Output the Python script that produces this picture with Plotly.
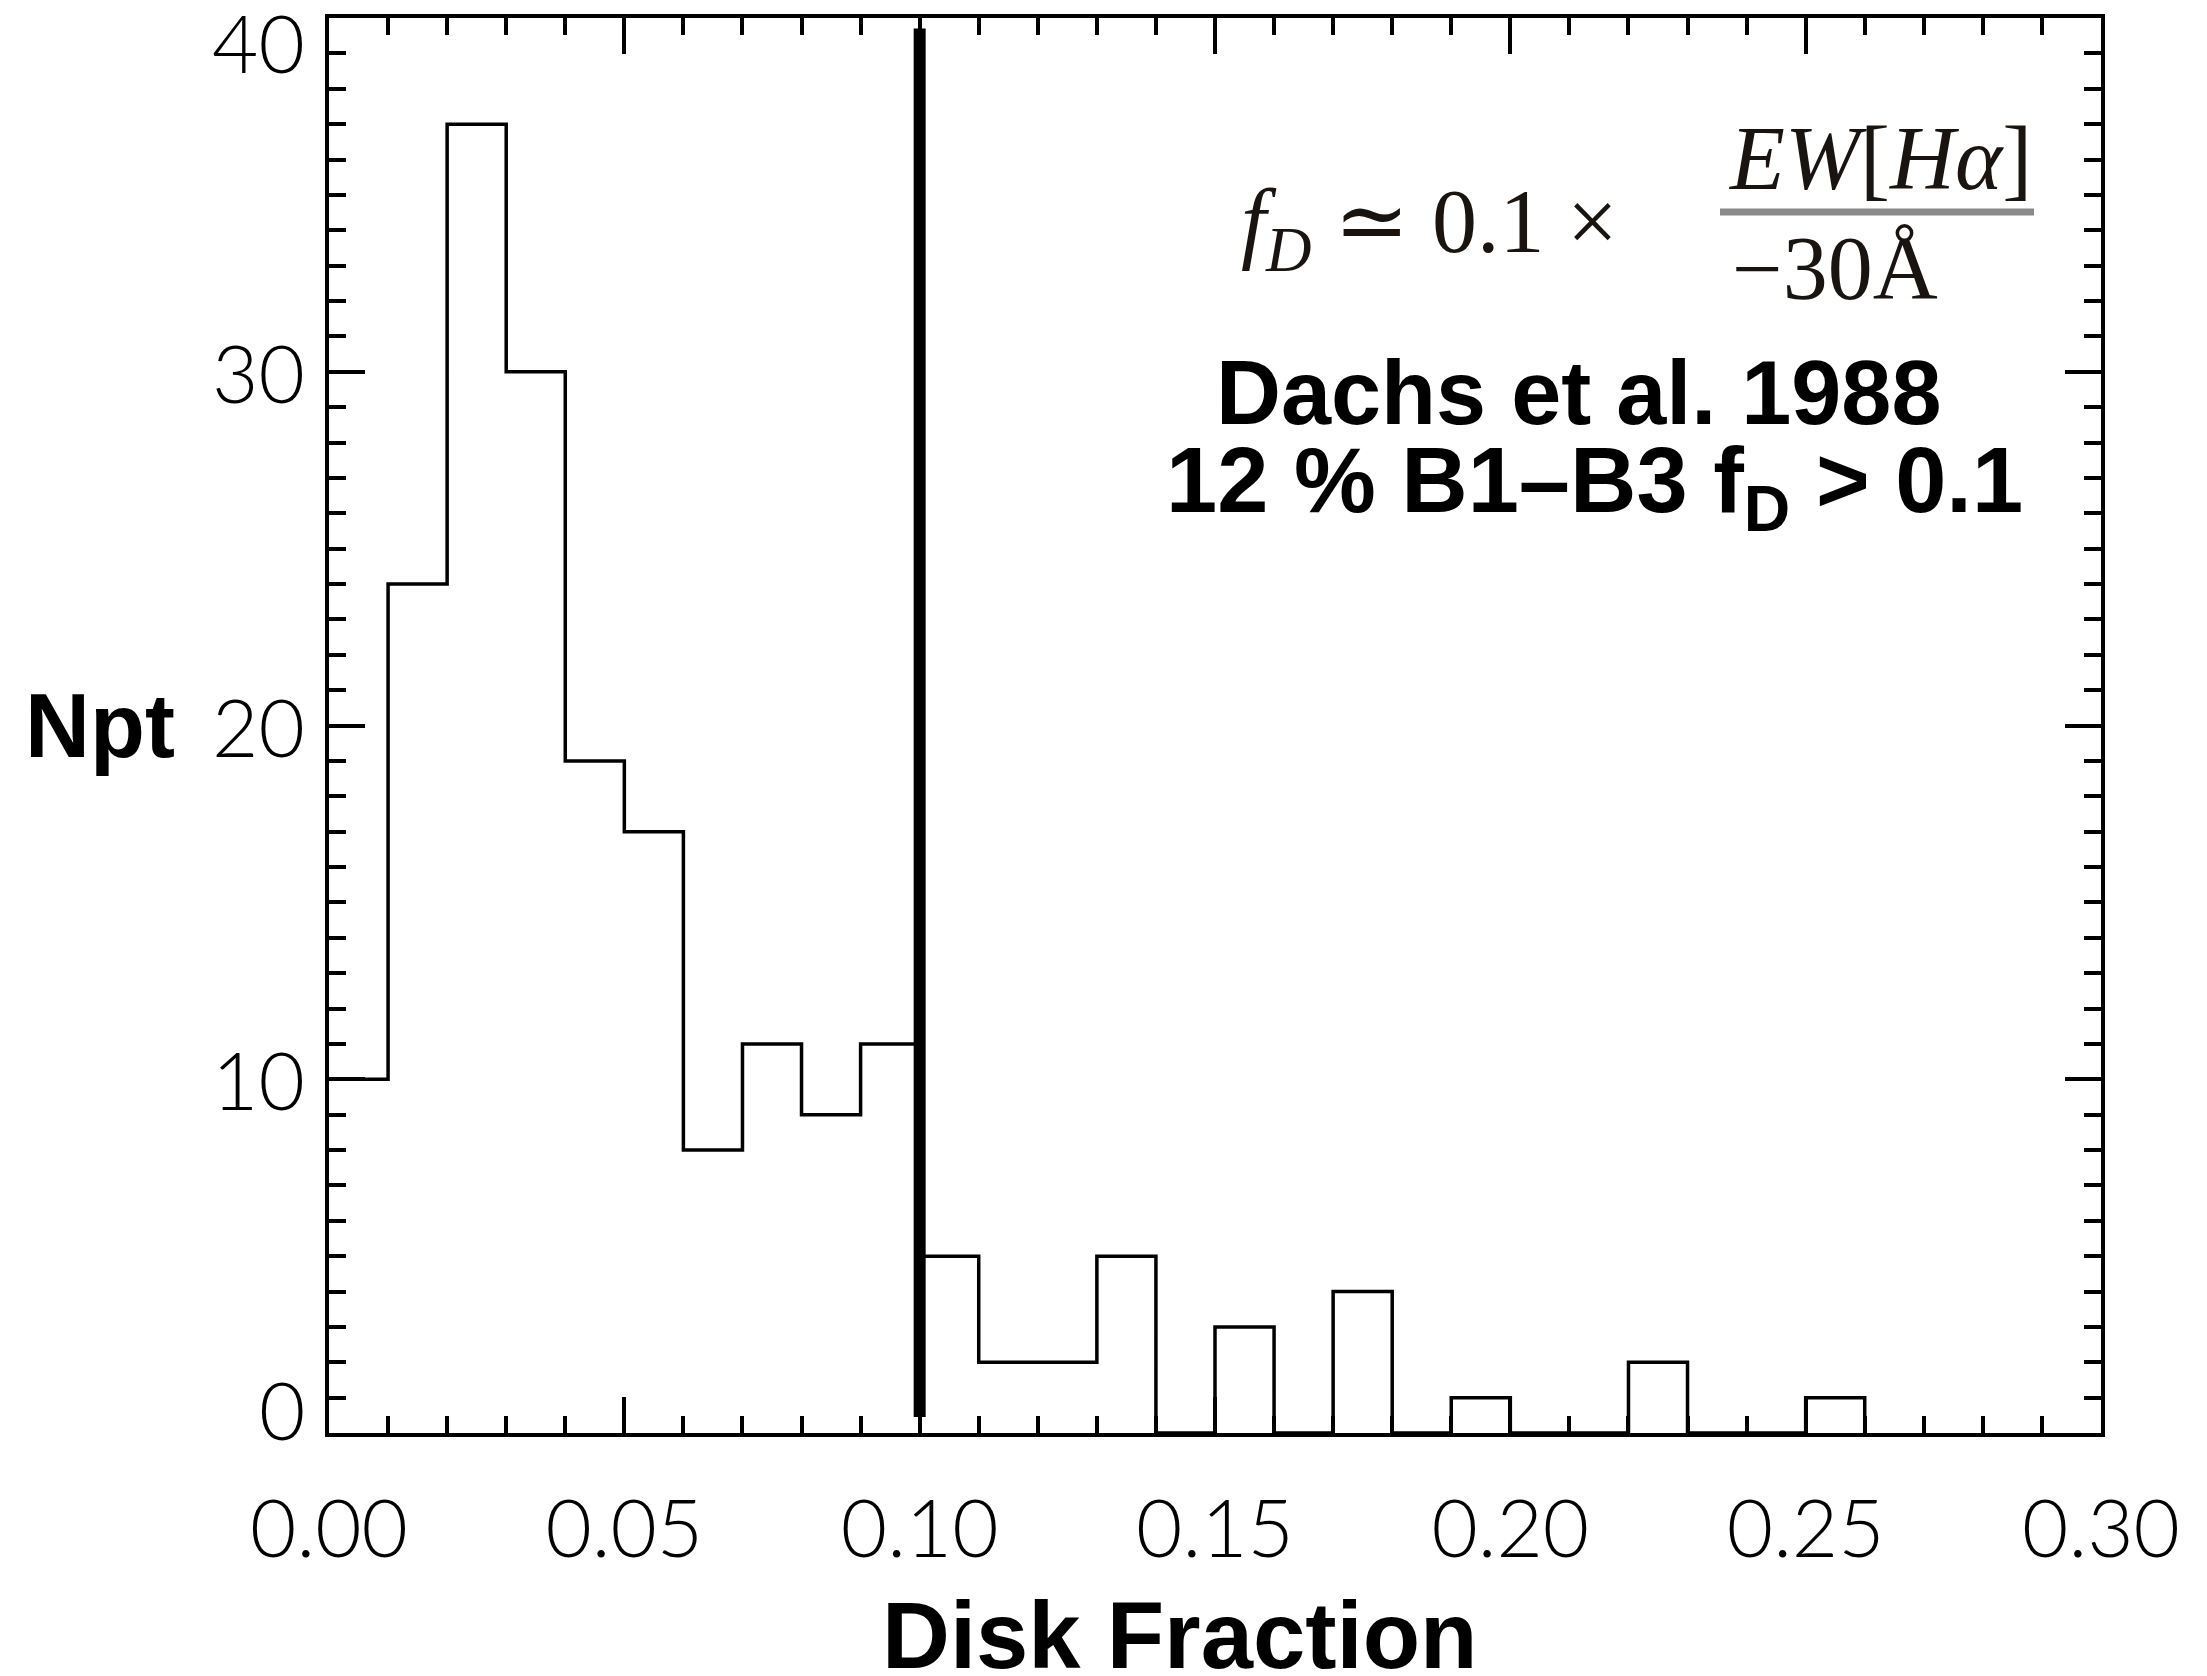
import plotly.graph_objects as go

# ---- data ----
bin_edges = [round(0.01 * i, 2) for i in range(27)]  # 0.00 .. 0.26
counts = [10, 24, 37, 30, 19, 17, 8, 11, 9, 11,
          5, 2, 2, 5, 0, 3, 0, 4, 0, 1, 0, 0, 2, 0, 0, 1]
cut_x = 0.10
cut_y = [0.45, 39.7]
x_ticks = [0.00, 0.05, 0.10, 0.15, 0.20, 0.25, 0.30]
y_ticks = [0, 10, 20, 30, 40]
x_title = "Disk Fraction"
y_title = "Npt"
note1 = "Dachs et al. 1988"
note2 = "12 % B1–B3 f<sub>D</sub> > 0.1"
formula_left = "<i>f</i><sub><i>D</i></sub> ≃ 0.1 ×"
formula_num = "<i>EW</i>[<i>H</i><i>α</i>]"
formula_den = "−30Å"

W, H = 2207, 1676
L, R, T, B = 329, 106, 18, 243
pw, ph = W - L - R, H - T - B


def px(xpix):
    return (xpix - L) / pw


def py(ypix):
    return (T + ph - ypix) / ph


fig = go.Figure()

# histogram outline (step)
fig.add_trace(go.Scatter(
    x=bin_edges, y=counts + [0], mode="lines",
    line=dict(color="black", width=3.5, shape="hv"),
    hoverinfo="skip", showlegend=False))

# thick cut line
fig.add_trace(go.Scatter(
    x=[cut_x, cut_x], y=cut_y, mode="lines",
    line=dict(color="black", width=12),
    hoverinfo="skip", showlegend=False))

tickfont = dict(family="Lato, Liberation Sans, sans-serif", size=80,
                color="black", weight=300)
boldfont = dict(family="Liberation Sans, Arial, sans-serif", size=90,
                color="black", weight="bold")
titlefont = dict(family="Liberation Sans, Arial, sans-serif", size=94,
                 color="black", weight="bold")
serif = dict(family="Liberation Serif, DejaVu Serif, serif", size=90,
             color="#1a1410")

fig.update_xaxes(
    range=[0, 0.30], tickvals=x_ticks, tickformat=".2f",
    ticks="inside", ticklen=36, tickwidth=4, tickcolor="black",
    minor=dict(dtick=0.01, ticks="inside", ticklen=17, tickwidth=4,
               tickcolor="black", showgrid=False),
    showline=True, linewidth=4, linecolor="black", mirror="ticks",
    showgrid=False, zeroline=False, tickfont=tickfont,
    ticklabelstandoff=24)

fig.update_yaxes(
    range=[0, 40], tickvals=y_ticks, showticklabels=False,
    ticks="inside", ticklen=36, tickwidth=4, tickcolor="black",
    minor=dict(dtick=1, ticks="inside", ticklen=17, tickwidth=4,
               tickcolor="black", showgrid=False),
    showline=True, linewidth=4, linecolor="black", mirror="ticks",
    showgrid=False, zeroline=False)

annotations = []
for v in y_ticks:
    if v == max(y_ticks):
        anchor, shift = "top", 26
    elif v == min(y_ticks):
        anchor, shift = "middle", 24
    else:
        anchor, shift = "middle", 0
    annotations.append(dict(
        x=0, xref="paper", y=v, yref="y", text=str(v), showarrow=False,
        xanchor="right", yanchor=anchor, xshift=-22, yshift=shift,
        font=tickfont))

annotations += [
    dict(x=px(100), xref="paper", y=20, yref="y", text=y_title,
         showarrow=False, xanchor="center", yanchor="middle", font=boldfont),
    dict(x=px(1180), xref="paper", y=py(1676), yref="paper", text=x_title,
         showarrow=False, xanchor="center", yanchor="bottom", yshift=-14,
         font=titlefont),
    dict(x=px(1578), xref="paper", y=py(393), yref="paper", text=note1,
         showarrow=False, xanchor="center", yanchor="middle", font=boldfont),
    dict(x=px(1594), xref="paper", y=py(487), yref="paper", text=note2,
         showarrow=False, xanchor="center", yanchor="middle",
         font=dict(boldfont, size=92)),
    dict(x=px(1429), xref="paper", y=py(228), yref="paper", text=formula_left,
         showarrow=False, xanchor="center", yanchor="middle", font=serif),
    dict(x=px(1880), xref="paper", y=py(158), yref="paper", text=formula_num,
         showarrow=False, xanchor="center", yanchor="middle", font=serif),
    dict(x=px(1835), xref="paper", y=py(268), yref="paper", text=formula_den,
         showarrow=False, xanchor="center", yanchor="middle", font=serif),
]

fig.add_shape(type="line", xref="paper", yref="paper",
              x0=px(1720), x1=px(2034), y0=py(212), y1=py(212),
              line=dict(color="#8a8a8a", width=7))

fig.update_layout(
    width=W, height=H,
    margin=dict(l=L, r=R, t=T, b=B, pad=0),
    plot_bgcolor="white", paper_bgcolor="white",
    annotations=annotations, showlegend=False)

fig.write_html("out.html")
